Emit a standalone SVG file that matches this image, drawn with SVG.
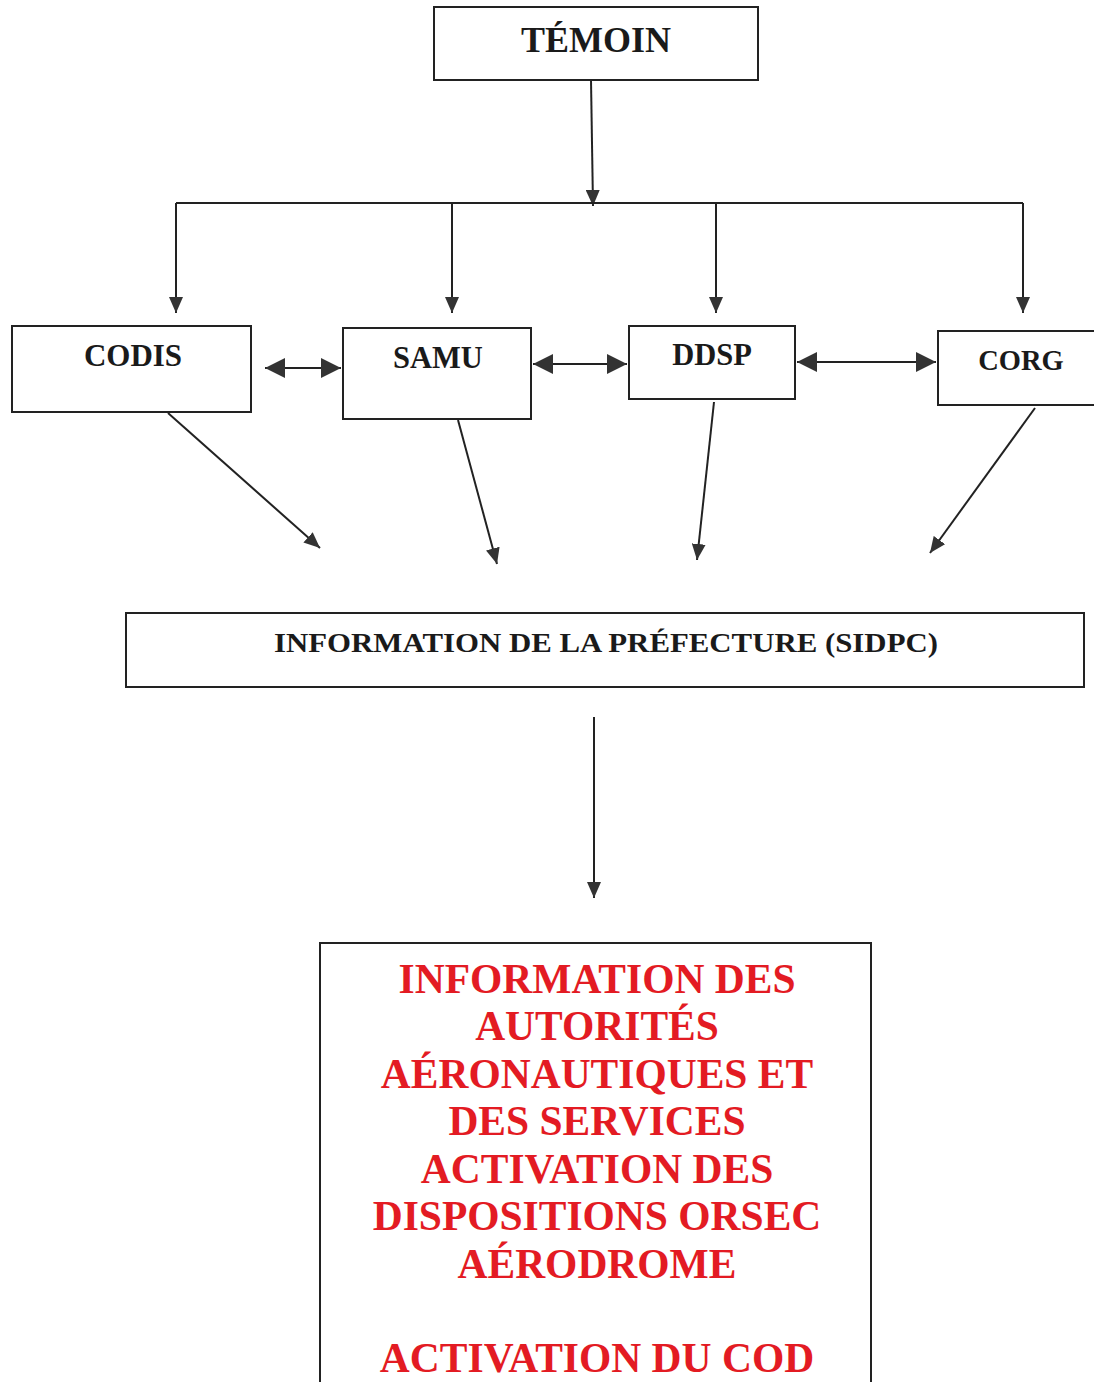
<svg xmlns="http://www.w3.org/2000/svg" width="1094" height="1382" viewBox="0 0 1094 1382">
<style>
.box{fill:#fff;stroke:#222;stroke-width:2}
.lbl{font-family:"Liberation Serif","Times New Roman",serif;font-weight:bold;fill:#1a1a1a;text-anchor:middle}
.red{font-family:"Liberation Serif","Times New Roman",serif;font-weight:bold;fill:#e31b23;text-anchor:middle;font-size:41.5px}
.ln{stroke:#222;stroke-width:2;fill:none}
</style>
<defs>
<marker id="ah" markerUnits="userSpaceOnUse" markerWidth="16" markerHeight="14" refX="16" refY="7" orient="auto">
<path d="M0,0 L16,7 L0,14 Z" fill="#333"/>
</marker>
<marker id="ahb" markerUnits="userSpaceOnUse" markerWidth="20" markerHeight="20" refX="20" refY="10" orient="auto">
<path d="M0,0 L20,10 L0,20 Z" fill="#333"/>
</marker>
<marker id="ahbs" markerUnits="userSpaceOnUse" markerWidth="20" markerHeight="20" refX="0" refY="10" orient="auto">
<path d="M20,0 L0,10 L20,20 Z" fill="#333"/>
</marker>
</defs>
<rect width="1094" height="1382" fill="#fff"/>
<g id="connectors">
<line class="ln" x1="591" y1="80" x2="593" y2="206" marker-end="url(#ah)"/>
<line class="ln" x1="176" y1="203" x2="1023" y2="203"/>
<line class="ln" x1="176" y1="203" x2="176" y2="313" marker-end="url(#ah)"/>
<line class="ln" x1="452" y1="203" x2="452" y2="313" marker-end="url(#ah)"/>
<line class="ln" x1="716" y1="203" x2="716" y2="313" marker-end="url(#ah)"/>
<line class="ln" x1="1023" y1="203" x2="1023" y2="313" marker-end="url(#ah)"/>
<line class="ln" x1="265" y1="368" x2="341" y2="368" marker-start="url(#ahbs)" marker-end="url(#ahb)"/>
<line class="ln" x1="533" y1="364" x2="627" y2="364" marker-start="url(#ahbs)" marker-end="url(#ahb)"/>
<line class="ln" x1="797" y1="362" x2="936" y2="362" marker-start="url(#ahbs)" marker-end="url(#ahb)"/>
<line class="ln" x1="168" y1="413" x2="320" y2="548" marker-end="url(#ah)"/>
<line class="ln" x1="458" y1="420" x2="497" y2="564" marker-end="url(#ah)"/>
<line class="ln" x1="714" y1="402" x2="697" y2="560" marker-end="url(#ah)"/>
<line class="ln" x1="1035" y1="408" x2="930" y2="553" marker-end="url(#ah)"/>
<line class="ln" x1="594" y1="717" x2="594" y2="898" marker-end="url(#ah)"/>
</g>
<g id="temoin">
<rect class="box" x="434" y="7" width="324" height="73"/>
<text class="lbl" x="596" y="52" font-size="36">TÉMOIN</text>
</g>
<g id="codis">
<rect class="box" x="12" y="326" width="239" height="86"/>
<text class="lbl" x="133" y="366" font-size="31">CODIS</text>
</g>
<g id="samu">
<rect class="box" x="343" y="328" width="188" height="91"/>
<text class="lbl" x="438" y="368" font-size="30.5">SAMU</text>
</g>
<g id="ddsp">
<rect class="box" x="629" y="326" width="166" height="73"/>
<text class="lbl" x="712" y="365" font-size="30.5">DDSP</text>
</g>
<g id="corg">
<rect class="box" x="938" y="331" width="160" height="74"/>
<text class="lbl" x="1021" y="370" font-size="28.5">CORG</text>
</g>
<g id="prefecture">
<rect class="box" x="126" y="613" width="958" height="74"/>
<text class="lbl" x="606" y="652" font-size="28" textLength="664" lengthAdjust="spacingAndGlyphs">INFORMATION DE LA PRÉFECTURE (SIDPC)</text>
</g>
<g id="activation">
<rect class="box" x="320" y="943" width="551" height="460"/>
<text class="red" x="597" y="993">INFORMATION DES</text>
<text class="red" x="597" y="1040">AUTORITÉS</text>
<text class="red" x="597" y="1088">AÉRONAUTIQUES ET</text>
<text class="red" x="597" y="1135">DES SERVICES</text>
<text class="red" x="597" y="1183">ACTIVATION DES</text>
<text class="red" x="597" y="1230">DISPOSITIONS ORSEC</text>
<text class="red" x="597" y="1278">AÉRODROME</text>
<text class="red" x="597" y="1372">ACTIVATION DU COD</text>
</g>
</svg>
